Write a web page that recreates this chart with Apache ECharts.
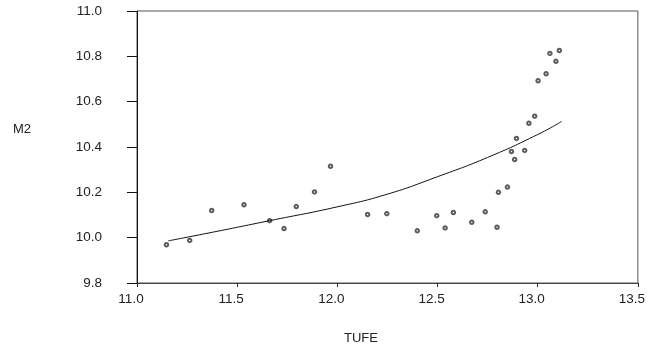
<!DOCTYPE html>
<html>
<head>
<meta charset="utf-8">
<script src="https://cdn.jsdelivr.net/npm/echarts@6/dist/echarts.min.js"></script>
<style>
  html, body { margin: 0; padding: 0; background: #fff; }
  #chart { width: 648px; height: 356px; }
</style>
</head>
<body>
<div id="chart"></div>
<script>
// observed points (TUFE, M2)
const tufe = [11.147, 11.263, 11.373, 11.534, 11.662, 11.734, 11.795, 11.886, 11.966,
  12.151, 12.247, 12.399, 12.496, 12.538, 12.579, 12.671, 12.738, 12.797, 12.804,
  12.849, 12.869, 12.885, 12.894, 12.935, 12.956, 12.985, 13.002, 13.042, 13.061,
  13.091, 13.108];
const m2 = [9.969, 9.988, 10.120, 10.145, 10.075, 10.040, 10.137, 10.202, 10.315,
  10.102, 10.106, 10.030, 10.097, 10.043, 10.111, 10.068, 10.114, 10.046, 10.200,
  10.223, 10.380, 10.345, 10.438, 10.385, 10.505, 10.536, 10.692, 10.723, 10.813,
  10.778, 10.826];

// fitted curve
const fitX = [11.156, 11.4, 11.662, 12.0, 12.25, 12.5, 12.75, 13.0, 13.12];
const fitY = [9.986, 10.028, 10.075, 10.136, 10.192, 10.269, 10.354, 10.455, 10.513];

const font = 'Liberation Sans, Arial, sans-serif';

const chart = echarts.init(document.getElementById('chart'));
chart.setOption({
  animation: false,
  backgroundColor: '#fff',
  textStyle: { fontFamily: font },
  grid: {
    left: 137, right: 5, top: 11, bottom: 73,
    show: true, borderColor: '#555', borderWidth: 1
  },
  graphic: [
    { type: 'text', left: 13, top: 123, style: { text: 'M2', font: '13px ' + font, fill: '#222' } },
    { type: 'text', left: 344, top: 332, style: { text: 'TUFE', font: '13px ' + font, fill: '#222' } }
  ],
  xAxis: {
    type: 'value', min: 11, max: 13.5, interval: 0.5,
    axisLine: { show: true, onZero: false, lineStyle: { color: '#444', width: 1 } },
    axisTick: { show: true, length: 4, lineStyle: { color: '#222' } },
    axisLabel: { color: '#222', fontSize: 13.5, margin: 9, padding: [0, 12, 0, 0],
      formatter: v => v.toFixed(1) },
    splitLine: { show: false }
  },
  yAxis: {
    type: 'value', min: 9.8, max: 11.0, interval: 0.2,
    axisLine: { show: true, onZero: false, lineStyle: { color: '#111', width: 1 } },
    axisTick: { show: true, length: 10, lineStyle: { color: '#111' } },
    axisLabel: { color: '#222', fontSize: 13.5, margin: 35,
      formatter: v => v.toFixed(1) },
    splitLine: { show: false }
  },
  series: [
    {
      type: 'line',
      data: fitX.map((x, i) => [x, fitY[i]]),
      smooth: true, showSymbol: false, symbol: 'none',
      lineStyle: { color: '#111', width: 1 }
    },
    {
      type: 'scatter',
      data: tufe.map((x, i) => [x, m2[i]]),
      symbol: 'emptyCircle', symbolSize: 3.5,
      itemStyle: { color: '#333', borderColor: '#333', borderWidth: 0.8 }
    }
  ]
});
</script>
</body>
</html>
